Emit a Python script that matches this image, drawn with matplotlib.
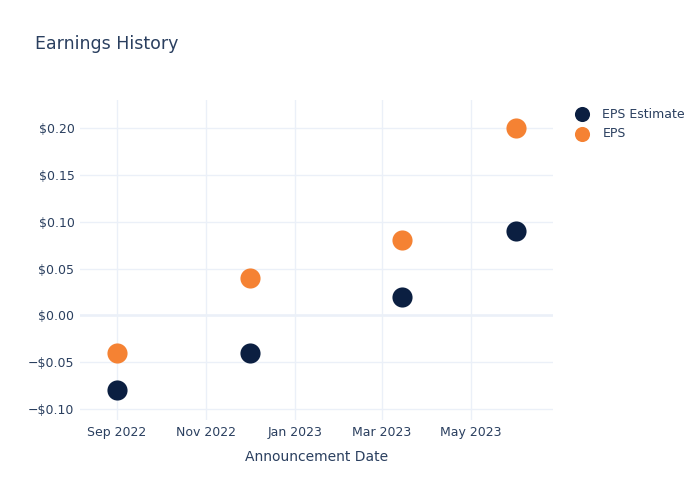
import numpy as np
import matplotlib.pyplot as plt
import matplotlib.dates as mdates
import datetime as dt

dates = [dt.date(2022, 9, 1), dt.date(2022, 12, 1), dt.date(2023, 3, 15), dt.date(2023, 6, 1)]
eps_estimate = [-0.08, -0.04, 0.02, 0.09]
eps = [-0.04, 0.04, 0.08, 0.20]

txt = '#2a3f5f'
grid = '#ebf0f8'

fig = plt.figure(figsize=(7, 5), dpi=100)
ax = fig.add_axes([80/700, 1-420/500, (553-80)/700, 320/500])

ax.scatter(dates, eps_estimate, s=210, color='#0b1f41', label='EPS Estimate', zorder=3, linewidths=0)
ax.scatter(dates, eps, s=210, color='#f58233', label='EPS', zorder=3, linewidths=0)

ax.set_xlim(dt.date(2022, 8, 7), dt.date(2023, 6, 26))
ax.set_ylim(-0.1117, 0.2299)
ax.set_yticks([-0.10, -0.05, 0.0, 0.05, 0.10, 0.15, 0.20])
ax.yaxis.set_major_formatter(plt.FuncFormatter(lambda v, p: ('\u2212' if v < -1e-9 else '') + '$%.2f' % abs(v)))
ax.xaxis.set_major_locator(mdates.MonthLocator(bymonth=[1, 3, 5, 7, 9, 11]))
ax.xaxis.set_major_formatter(mdates.DateFormatter('%b %Y'))

ax.grid(True, color=grid, linewidth=1)
ax.axhline(0, color=grid, linewidth=1.8, zorder=1)
ax.set_axisbelow(True)
for sp in ax.spines.values():
    sp.set_visible(False)
ax.tick_params(length=0, colors=txt, labelsize=9)
ax.tick_params(axis='x', pad=4)
ax.tick_params(axis='y', pad=4)

ax.set_xlabel('Announcement Date', color=txt, fontsize=10, labelpad=8)
fig.text(35/700, 1-44/500, 'Earnings History', color=txt, fontsize=12.5, va='center')

leg = ax.legend(loc='upper left', bbox_to_anchor=(1.025, 0.992), frameon=False, fontsize=9,
                labelcolor=txt, handletextpad=0.6, markerscale=0.75, borderaxespad=0)

fig.savefig('out.png')
